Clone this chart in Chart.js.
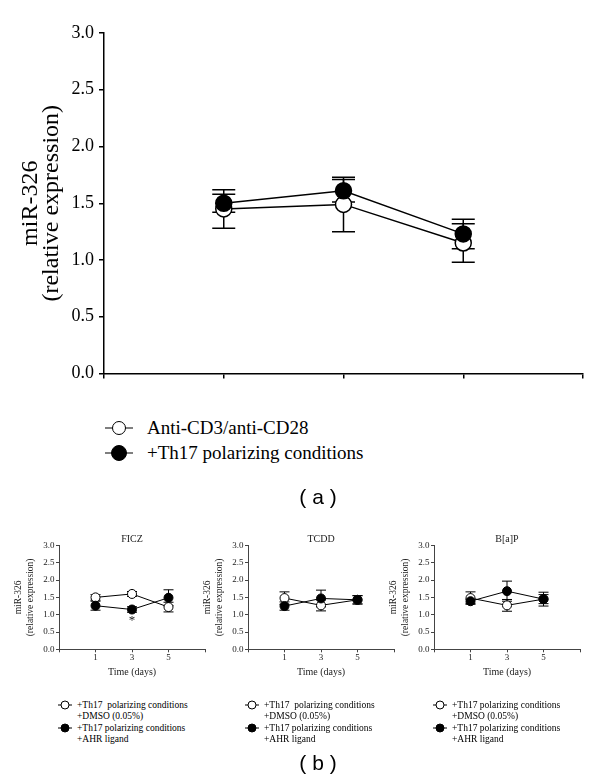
<!DOCTYPE html>
<html>
<head>
<meta charset="utf-8">
<title>miR-326 expression</title>
<script src="https://cdn.jsdelivr.net/npm/chart.js@4.4.1/dist/chart.umd.min.js"></script>
<style>
  body { margin: 0; background: #fff; }
  #page { position: relative; width: 600px; height: 781px; overflow: hidden; font-family: 'Liberation Serif', 'Times New Roman', serif; color: #000; }
  canvas { position: absolute; }
  .lg { position: absolute; white-space: pre; }
  .mk { position: absolute; }
  .mk .ln { position: absolute; left: 0; right: 0; top: 50%; border-top: 1.5px solid #000; transform: translateY(-50%); }
  .mk .dot { position: absolute; left: 50%; top: 50%; border: 1.5px solid #000; border-radius: 50%; background: #fff; transform: translate(-50%, -50%); box-sizing: border-box; }
  .mk .dot.full { background: #000; }
  .panel { position: absolute; font-family: 'Liberation Sans', Arial, sans-serif; font-size: 21px; transform: translateX(-50%); white-space: pre; }
</style>
</head>
<body>
<div id="page">
  <canvas id="mainChart" width="600" height="400" style="left:0;top:0"></canvas>
  <canvas id="ficzChart" width="211" height="160" style="left:0;top:528px"></canvas>
  <canvas id="tcddChart" width="211" height="160" style="left:189px;top:528px"></canvas>
  <canvas id="bapChart" width="211" height="160" style="left:375px;top:528px"></canvas>
</div>
<script>
// x positions of the three time points, and how they are labelled
const dayIndex = [1, 2, 3];
const dayLabels = ['1', '3', '5'];

// (a) anti-CD3/anti-CD28 vs +Th17 polarizing conditions
const cd3Mean = [1.45, 1.49, 1.15];
const cd3Err = [0.17, 0.24, 0.17];
const th17Mean = [1.50, 1.61, 1.23];
const th17Err = [0.08, 0.10, 0.13];

// (b) DMSO vs AHR ligand, one panel per ligand
const ficzDmso = [1.50, 1.60, 1.22];
const ficzDmsoErr = [0.08, 0.07, 0.14];
const ficzLigand = [1.26, 1.15, 1.49];
const ficzLigandErr = [0.13, 0.08, 0.23];
const ficzSignificant = [false, true, false];

const tcddDmso = [1.48, 1.27, 1.43];
const tcddDmsoErr = [0.18, 0.16, 0.12];
const tcddLigand = [1.25, 1.47, 1.43];
const tcddLigandErr = [0.12, 0.24, 0.12];

const bapDmso = [1.48, 1.27, 1.45];
const bapDmsoErr = [0.18, 0.17, 0.20];
const bapLigand = [1.39, 1.68, 1.45];
const bapLigandErr = [0.06, 0.29, 0.13];

const SERIF = "'Liberation Serif', 'Times New Roman', serif";

const toPoints = (values) => values.map((v, i) => ({ x: dayIndex[i], y: v }));

// error bars drawn under the markers
const errorBars = {
    id: 'errorBars',
    beforeDatasetsDraw(chart) {
        const { ctx } = chart;
        const xs = chart.scales.x;
        const ys = chart.scales.y;
        chart.data.datasets.forEach((ds, i) => {
            if (!ds.errors || !chart.isDatasetVisible(i)) return;
            const cap = ds.capWidth || 5;
            ctx.save();
            ctx.strokeStyle = '#000';
            ctx.lineWidth = ds.borderWidth || 1;
            ds.data.forEach((pt, j) => {
                const e = ds.errors[j];
                const x = xs.getPixelForValue(pt.x);
                const top = ys.getPixelForValue(pt.y + e);
                const bot = ys.getPixelForValue(pt.y - e);
                ctx.beginPath();
                ctx.moveTo(x, top); ctx.lineTo(x, bot);
                ctx.moveTo(x - cap, top); ctx.lineTo(x + cap, top);
                ctx.moveTo(x - cap, bot); ctx.lineTo(x + cap, bot);
                ctx.stroke();
            });
            ctx.restore();
        });
    },
    afterDatasetsDraw(chart) {
        // significance stars below the error bar
        const { ctx } = chart;
        chart.data.datasets.forEach((ds) => {
            if (!ds.significant) return;
            ds.data.forEach((pt, j) => {
                if (!ds.significant[j]) return;
                const x = chart.scales.x.getPixelForValue(pt.x);
                const y = chart.scales.y.getPixelForValue(pt.y - ds.errors[j]);
                ctx.save();
                ctx.fillStyle = '#222';
                ctx.font = '13px ' + SERIF;
                ctx.textAlign = 'center';
                ctx.textBaseline = 'top';
                ctx.fillText('*', x, y + 2);
                ctx.restore();
            });
        });
    }
};

function series(label, values, errors, filled, radius, cap, width) {
    return {
        label: label,
        data: toPoints(values),
        errors: errors,
        capWidth: cap,
        borderColor: '#000',
        borderWidth: width,
        pointRadius: radius,
        pointBorderWidth: width,
        pointBorderColor: '#000',
        pointBackgroundColor: filled ? '#000' : '#fff',
        tension: 0
    };
}

// main chart (a)
new Chart(document.getElementById('mainChart'), {
    type: 'line',
    data: {
        datasets: [
            series('+Th17 polarizing conditions', th17Mean, th17Err, true, 8, 11.5, 1.5),
            series('Anti-CD3/anti-CD28', cd3Mean, cd3Err, false, 8, 11.5, 1.5)
        ]
    },
    options: {
        responsive: false,
        animation: false,
        layout: { padding: { top: 33, right: 17, left: 0, bottom: 0 } },
        plugins: { legend: { display: false }, tooltip: { enabled: false } },
        scales: {
            x: {
                type: 'linear', min: 0, max: 4,
                ticks: { stepSize: 1, callback: () => '' },
                grid: { drawOnChartArea: false, tickLength: 5, color: '#000', lineWidth: 1.5 },
                border: { color: '#000', width: 1.5 },
                afterFit(s) { s.height = 26.5; }
            },
            y: {
                min: 0, max: 3,
                ticks: { stepSize: 0.5, callback: (v) => v.toFixed(1), color: '#000', padding: 5, font: { family: SERIF, size: 18 } },
                grid: { drawOnChartArea: false, tickLength: 5, color: '#000', lineWidth: 1.5 },
                border: { color: '#000', width: 1.5 },
                title: {
                    display: true, text: ['miR-326', '(relative expression)'], color: '#000',
                    font: { family: SERIF, size: 24, lineHeight: 0.85 }, padding: { top: 21, bottom: 0 }
                },
                afterFit(s) { s.width = 104; }
            }
        }
    },
    plugins: [errorBars]
});

// small panels (b)
function smallChart(id, title, dmso, dmsoErr, ligand, ligandErr, significant) {
    const ligandSet = series('+Th17 polarizing conditions +AHR ligand', ligand, ligandErr, true, 4.5, 5, 1);
    ligandSet.significant = significant || null;
    new Chart(document.getElementById(id), {
        type: 'line',
        data: {
            datasets: [
                ligandSet,
                series('+Th17 polarizing conditions +DMSO (0.05%)', dmso, dmsoErr, false, 4.5, 5, 1)
            ]
        },
        options: {
            responsive: false,
            animation: false,
            layout: { padding: { top: 5.5, right: 6, left: 0, bottom: 0 } },
            plugins: {
                legend: { display: false },
                tooltip: { enabled: false },
                title: { display: true, text: title, fullSize: false, color: '#222', padding: 0, font: { family: SERIF, size: 10, weight: 'normal', lineHeight: 1.2 } }
            },
            scales: {
                x: {
                    type: 'linear', min: 0, max: 4,
                    ticks: { stepSize: 1, padding: 0, color: '#222', font: { family: SERIF, size: 9 },
                        callback: (v) => { const k = dayIndex.indexOf(v); return k >= 0 ? dayLabels[k] : ''; } },
                    grid: { drawOnChartArea: false, tickLength: 3, color: '#444', lineWidth: 1 },
                    border: { color: '#444', width: 1 },
                    title: { display: true, text: 'Time (days)', color: '#222', font: { family: SERIF, size: 10, lineHeight: 1.2 }, padding: { top: 0, bottom: 10 } },
                    afterFit(s) { s.height = 38.7; }
                },
                y: {
                    min: 0, max: 3,
                    ticks: { stepSize: 0.5, callback: (v) => v.toFixed(1), color: '#222', padding: 1.5, font: { family: SERIF, size: 9 } },
                    grid: { drawOnChartArea: false, tickLength: 3, color: '#444', lineWidth: 1 },
                    border: { color: '#444', width: 1 },
                    title: {
                        display: true, text: ['miR-326', '(relative expression)'], color: '#222',
                        font: { family: SERIF, size: 9.5, lineHeight: 1.2 }, padding: { top: 13, bottom: 0 }
                    },
                    afterFit(s) { s.width = 59; }
                }
            }
        },
        plugins: [errorBars]
    });
}

smallChart('ficzChart', 'FICZ', ficzDmso, ficzDmsoErr, ficzLigand, ficzLigandErr, ficzSignificant);
smallChart('tcddChart', 'TCDD', tcddDmso, tcddDmsoErr, tcddLigand, tcddLigandErr);
smallChart('bapChart', 'B[a]P', bapDmso, bapDmsoErr, bapLigand, bapLigandErr);

// legends and panel letters
const page = document.getElementById('page');

function addMarker(cx, cy, lineW, r, filled) {
    const m = document.createElement('div');
    m.className = 'mk';
    m.style.left = (cx - lineW / 2) + 'px';
    m.style.top = (cy - r - 1) + 'px';
    m.style.width = lineW + 'px';
    m.style.height = (2 * r + 2) + 'px';
    m.innerHTML = '<div class="ln"></div><div class="dot' + (filled ? ' full' : '') + '" style="width:' + (2 * r) + 'px;height:' + (2 * r) + 'px"></div>';
    page.appendChild(m);
}

function addText(text, x, cy, size, lineH, cls) {
    const d = document.createElement('div');
    d.className = cls || 'lg';
    d.textContent = text;
    d.style.left = x + 'px';
    d.style.top = (cy - lineH / 2) + 'px';
    d.style.fontSize = size + 'px';
    d.style.lineHeight = lineH + 'px';
    page.appendChild(d);
}

// legend of (a)
addMarker(119, 428, 28, 7, false);
addText('Anti-CD3/anti-CD28', 147, 428, 19, 22);
addMarker(119, 453, 28, 8, true);
addText('+Th17 polarizing conditions', 147, 453, 19, 22);

// legends of (b)
const smallLegends = [
    { x: 0, first: '+Th17  polarizing conditions' },
    { x: 187, first: '+Th17  polarizing conditions' },
    { x: 375, first: '+Th17 polarizing conditions' }
];
smallLegends.forEach((lg) => {
    addMarker(lg.x + 65, 705, 14, 4.5, false);
    addText(lg.first, lg.x + 77, 705, 9.5, 11);
    addText('+DMSO (0.05%)', lg.x + 77, 716, 9.5, 11);
    addMarker(lg.x + 65, 728, 14, 4.5, true);
    addText('+Th17 polarizing conditions', lg.x + 77, 728, 9.5, 11);
    addText('+AHR ligand', lg.x + 77, 739, 9.5, 11);
});

addText('( a )', 318, 497, 21, 24, 'panel');
addText('( b )', 318, 763, 21, 24, 'panel');
</script>
</body>
</html>
